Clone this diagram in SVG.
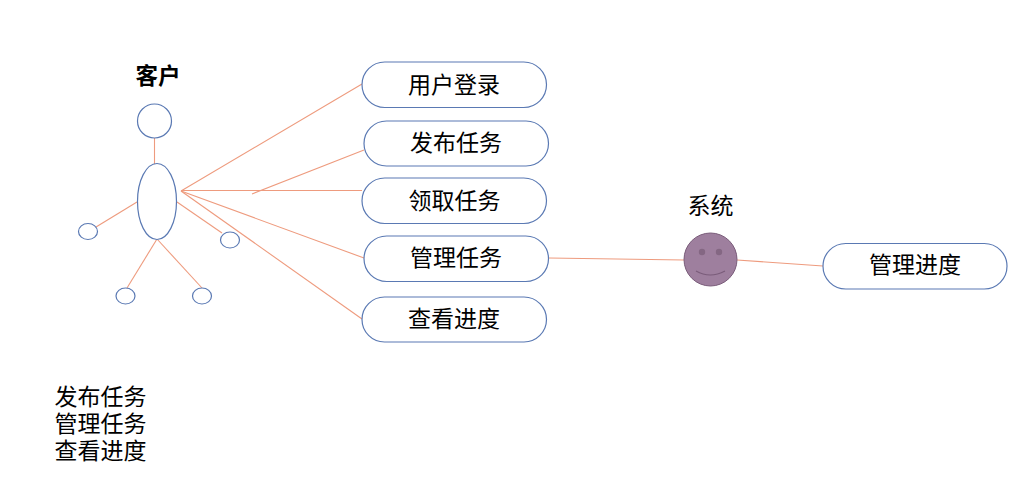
<svg xmlns="http://www.w3.org/2000/svg" width="1014" height="481" viewBox="0 0 1014 481">
<style>
text{font-family:"Liberation Sans","Noto Sans CJK SC",sans-serif;font-size:23px;fill:#000}
.c{text-anchor:middle}
.s{fill:#fff;stroke:#5a79b3;stroke-width:1.2}
#connectors line{stroke:#ee9b7e;stroke-width:1.1}
</style>
<rect width="1014" height="481" fill="#fff"/>
<g id="connectors">
<line x1="154.500" y1="137" x2="154.500" y2="164"/>
<line x1="137" y1="202" x2="96" y2="227"/>
<line x1="177" y1="202" x2="222" y2="233"/>
<line x1="157" y1="239" x2="127" y2="288"/>
<line x1="157" y1="239" x2="202" y2="288"/>
<line x1="181" y1="191" x2="362" y2="84"/>
<line x1="252" y1="194" x2="364" y2="150"/>
<line x1="181" y1="190.500" x2="362" y2="190.500"/>
<line x1="181" y1="191" x2="364" y2="258"/>
<line x1="181" y1="191" x2="362" y2="319"/>
<line x1="549" y1="258" x2="684" y2="260"/>
<line x1="737" y1="260" x2="823" y2="266"/>
</g>
<g id="actor-customer">
<circle class="s" cx="154.500" cy="121" r="17"/>
<ellipse class="s" cx="157" cy="201.500" rx="19.500" ry="38"/>
<ellipse class="s" cx="88" cy="231.500" rx="9.500" ry="8"/>
<ellipse class="s" cx="230" cy="240" rx="9.500" ry="8"/>
<ellipse class="s" cx="125.500" cy="296" rx="9.500" ry="8"/>
<ellipse class="s" cx="202" cy="296" rx="9.500" ry="8"/>
<text class="c" x="158" y="84" font-weight="700" style="font-weight:700;font-size:22.500px">客户</text>
</g>
<g id="uc-login"><rect class="s" x="362" y="62" width="184.500" height="45.500" rx="22.750"/><text class="c" x="454" y="93">用户登录</text></g>
<g id="uc-publish"><rect class="s" x="364" y="121" width="184.500" height="45" rx="22.500"/><text class="c" x="456" y="151">发布任务</text></g>
<g id="uc-claim"><rect class="s" x="362" y="178" width="184.500" height="45.500" rx="22.750"/><text class="c" x="454.500" y="209">领取任务</text></g>
<g id="uc-manage"><rect class="s" x="364" y="236" width="184.500" height="45.500" rx="22.750"/><text class="c" x="456" y="266">管理任务</text></g>
<g id="uc-view"><rect class="s" x="362" y="297" width="184.500" height="45" rx="22.500"/><text class="c" x="454" y="327">查看进度</text></g>
<g id="uc-progress"><rect class="s" x="823" y="243.500" width="184" height="45.500" rx="22.750"/><text class="c" x="915" y="273">管理进度</text></g>
<g id="actor-system">
<text class="c" x="710.500" y="214">系统</text>
<circle cx="710.500" cy="259.500" r="26.500" fill="#9e7f9e" stroke="#7a5c7a" stroke-width="1"/>
<circle cx="702" cy="252" r="3.200" fill="#846783"/>
<circle cx="719" cy="252" r="3.200" fill="#846783"/>
<path d="M696 271Q710 279 725 271" fill="none" stroke="#7a5c7a" stroke-width="1.200"/>
</g>
<g id="note">
<text x="54.500" y="405">发布任务</text>
<text x="54.500" y="432">管理任务</text>
<text x="54.500" y="459">查看进度</text>
</g>
</svg>
